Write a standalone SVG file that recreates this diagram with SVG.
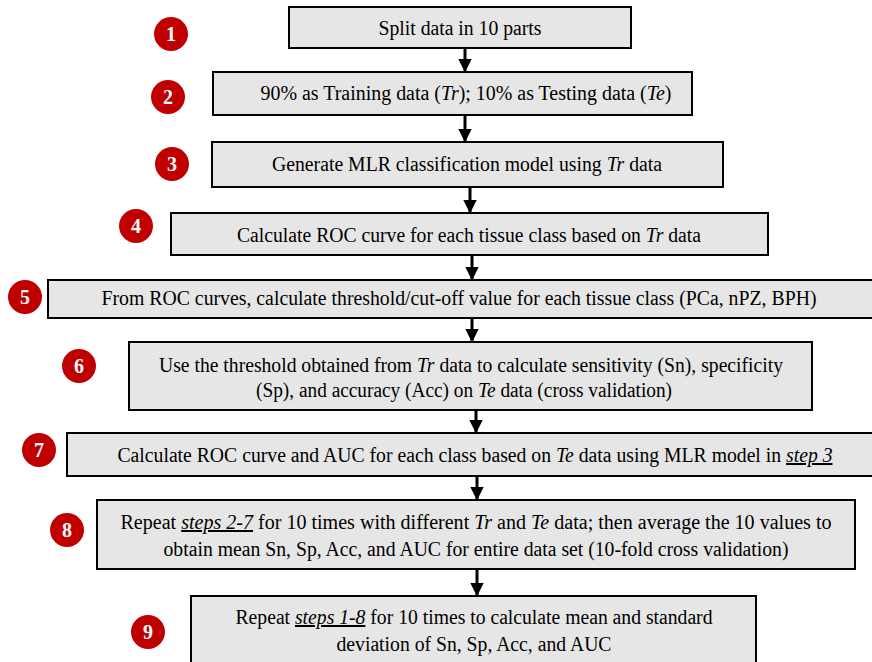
<svg xmlns="http://www.w3.org/2000/svg" width="872" height="662" viewBox="0 0 872 662">
<style>
.box{fill:#e6e6e6;stroke:#000;stroke-width:2}
.t{font-family:"Liberation Serif","Times New Roman",serif;font-size:20px;fill:#000;text-anchor:middle}
.i{font-style:italic}
.u{font-style:italic;text-decoration:underline}
.c{fill:#c00000}
.n{font-family:"Liberation Serif","Times New Roman",serif;font-size:20px;font-weight:bold;fill:#fff;text-anchor:middle}
.e{stroke:#000;stroke-width:3;fill:none}
</style>
<defs>
<marker id="ah" viewBox="0 0 10 10" refX="9" refY="5" markerWidth="4.5" markerHeight="4.5" markerUnits="strokeWidth" orient="auto">
<path d="M0,0 L10,5 L0,10 z" fill="#000"/>
</marker>
</defs>
<g id="connectors">
<line class="e" x1="465" y1="48" x2="465" y2="71" marker-end="url(#ah)"/>
<line class="e" x1="465" y1="115" x2="465" y2="141" marker-end="url(#ah)"/>
<line class="e" x1="470" y1="187" x2="470" y2="212" marker-end="url(#ah)"/>
<line class="e" x1="472" y1="255" x2="472" y2="279" marker-end="url(#ah)"/>
<line class="e" x1="472" y1="318" x2="472" y2="341" marker-end="url(#ah)"/>
<line class="e" x1="476" y1="410" x2="476" y2="432" marker-end="url(#ah)"/>
<line class="e" x1="477" y1="476" x2="477" y2="499" marker-end="url(#ah)"/>
<line class="e" x1="477" y1="569" x2="477" y2="595" marker-end="url(#ah)"/>
</g>
<g id="step1">
<rect class="box" x="289" y="7" width="342" height="41"/>
<text class="t" x="460" y="35" textLength="163" lengthAdjust="spacingAndGlyphs">Split data in 10 parts</text>
<circle class="c" cx="171" cy="34" r="17"/><text class="n" x="171" y="41">1</text>
</g>
<g id="step2">
<rect class="box" x="213" y="72" width="479" height="43"/>
<text class="t" x="466" y="100" textLength="411" lengthAdjust="spacingAndGlyphs">90% as Training data (<tspan class="i">Tr</tspan>); 10% as Testing data (<tspan class="i">Te</tspan>)</text>
<circle class="c" cx="168" cy="97" r="17"/><text class="n" x="168" y="104">2</text>
</g>
<g id="step3">
<rect class="box" x="212" y="142" width="511" height="45"/>
<text class="t" x="467" y="171" textLength="390" lengthAdjust="spacingAndGlyphs">Generate MLR classification model using <tspan class="i">Tr</tspan> data</text>
<circle class="c" cx="172" cy="164" r="17"/><text class="n" x="172" y="171">3</text>
</g>
<g id="step4">
<rect class="box" x="171" y="213" width="597" height="42"/>
<text class="t" x="469" y="242" textLength="464" lengthAdjust="spacingAndGlyphs">Calculate ROC curve for each tissue class based on <tspan class="i">Tr</tspan> data</text>
<circle class="c" cx="136" cy="226" r="17"/><text class="n" x="136" y="233">4</text>
</g>
<g id="step5">
<rect class="box" x="48" y="280" width="830" height="38"/>
<text class="t" x="459" y="305" textLength="715" lengthAdjust="spacingAndGlyphs">From ROC curves, calculate threshold/cut-off value for each tissue class  (PCa, nPZ, BPH)</text>
<circle class="c" cx="25" cy="297" r="17"/><text class="n" x="25" y="304">5</text>
</g>
<g id="step6">
<rect class="box" x="129" y="342" width="683" height="68"/>
<text class="t" x="471" y="372" textLength="624" lengthAdjust="spacingAndGlyphs">Use the threshold obtained from <tspan class="i">Tr</tspan> data to calculate sensitivity (Sn), specificity</text>
<text class="t" x="464" y="397" textLength="416" lengthAdjust="spacingAndGlyphs">(Sp), and accuracy (Acc) on <tspan class="i">Te</tspan> data (cross validation)</text>
<circle class="c" cx="79" cy="366" r="17"/><text class="n" x="79" y="373">6</text>
</g>
<g id="step7">
<rect class="box" x="67" y="433" width="811" height="43"/>
<text class="t" x="475" y="462" textLength="715" lengthAdjust="spacingAndGlyphs">Calculate ROC curve and AUC for each class based on <tspan class="i">Te</tspan> data using MLR model in <tspan class="u">step 3</tspan></text>
<circle class="c" cx="39" cy="450" r="17"/><text class="n" x="39" y="457">7</text>
</g>
<g id="step8">
<rect class="box" x="97" y="500" width="758" height="69"/>
<text class="t" x="476" y="529" textLength="711" lengthAdjust="spacingAndGlyphs">Repeat <tspan class="u">steps 2-7</tspan> for 10 times  with different <tspan class="i">Tr</tspan>  and <tspan class="i">Te</tspan> data; then average the 10 values to</text>
<text class="t" x="476" y="556" textLength="625" lengthAdjust="spacingAndGlyphs">obtain mean Sn, Sp, Acc, and AUC for entire data set (10-fold cross validation)</text>
<circle class="c" cx="67" cy="530" r="17"/><text class="n" x="67" y="537">8</text>
</g>
<g id="step9">
<rect class="box" x="191" y="596" width="565" height="70"/>
<text class="t" x="474" y="624" textLength="477" lengthAdjust="spacingAndGlyphs">Repeat <tspan class="u">steps 1-8</tspan> for 10 times to calculate mean and standard</text>
<text class="t" x="474" y="651" textLength="275" lengthAdjust="spacingAndGlyphs">deviation of Sn, Sp, Acc, and AUC</text>
<circle class="c" cx="148" cy="632" r="17"/><text class="n" x="148" y="639">9</text>
</g>
</svg>
